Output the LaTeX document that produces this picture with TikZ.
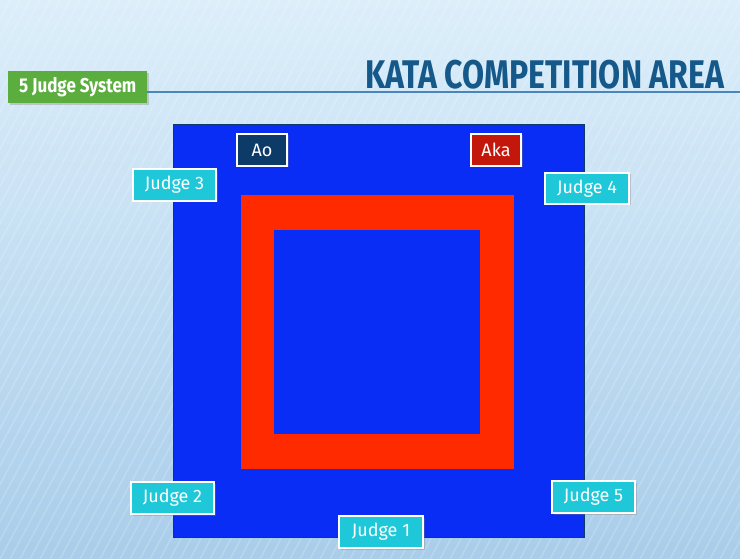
\documentclass[tikz,border=0pt]{standalone}
\usepackage{fontspec}
\setmainfont{Fira Sans}
\usetikzlibrary{shadows}
\definecolor{bgtop}{HTML}{DCEEFA}
\definecolor{bgbot}{HTML}{A9CDEA}
\definecolor{matblue}{HTML}{0A2DF5}
\definecolor{matred}{HTML}{FF2A00}
\definecolor{greenbox}{HTML}{5BAE3E}
\definecolor{titleblue}{HTML}{15588A}
\definecolor{lineblue}{HTML}{4A86BC}
\definecolor{aonavy}{HTML}{0D3B68}
\definecolor{akared}{HTML}{C4170C}
\definecolor{judgecyan}{HTML}{1FC8D8}
\tikzset{
  px/.style={x=1pt,y=-1pt},
  tag/.style={draw=white, line width=2pt, text=white, inner sep=0pt,
    font=\fontsize{18}{18}\selectfont, anchor=north west,
    drop shadow={shadow xshift=1.5pt,shadow yshift=-1.5pt,opacity=0.35}},
  judgetag/.style={tag, fill=judgecyan},
}
\begin{document}
\begin{tikzpicture}[px]
\useasboundingbox (0,0) rectangle (740,559);
\shade[top color=bgtop, bottom color=bgbot] (0,0) rectangle (740,559);
% faint diagonal stripes
\begin{scope}
\clip (0,0) rectangle (740,559);
\foreach \i in {-600,-590,...,740}
  \draw[white, opacity=0.18, line width=1.5pt] (\i,559) -- (\i+300,0);
\end{scope}
% header
\coordinate (lineend) at (740,92);
\node[fill=greenbox, minimum width=139pt, minimum height=32pt, inner sep=0pt,
  anchor=north west, text=white, font=\bfseries\fontsize{20}{20}\selectfont,
  drop shadow={shadow xshift=2pt,shadow yshift=-2pt,opacity=0.35}]
  (sys) at (8,71) {\addfontfeature{FakeStretch=0.85}5 Judge System};
\draw[lineblue, line width=1.2pt] (sys.east |- 0,92) -- (lineend);
\node[anchor=south west, inner sep=0pt, text=titleblue,
  font=\bfseries\fontsize{40}{40}\selectfont] (title) at (365,89)
  {\addfontfeature{FakeStretch=0.8}KATA COMPETITION AREA};
% mat
\node[fill=matblue, draw=aonavy, line width=0.6pt, minimum width=411pt, minimum height=413pt,
  anchor=north west, inner sep=0pt] (mat) at (173,124) {};
\node[fill=matred, minimum width=273pt, minimum height=274pt,
  anchor=north west, inner sep=0pt] (frame) at (241,195) {};
\node[fill=matblue, minimum width=206pt, minimum height=204pt,
  anchor=north west, inner sep=0pt] (inner) at (274,230) {};
% tags
\node[tag, fill=aonavy, minimum width=50pt, minimum height=32pt] (ao) at (236,133) {Ao};
\node[tag, fill=akared, minimum width=50pt, minimum height=32pt] (aka) at (470,133) {Aka};
\node[judgetag, minimum width=83pt, minimum height=32pt] (j3) at (132,168) {Judge 3};
\node[judgetag, minimum width=84pt, minimum height=31pt] (j4) at (544,172) {Judge 4};
\node[judgetag, minimum width=83pt, minimum height=32pt] (j2) at (130,481) {Judge 2};
\node[judgetag, minimum width=83pt, minimum height=32pt] (j5) at (551,480) {Judge 5};
\node[judgetag, minimum width=84pt, minimum height=32pt] (j1) at (338,515) {Judge 1};
\end{tikzpicture}
\end{document}
